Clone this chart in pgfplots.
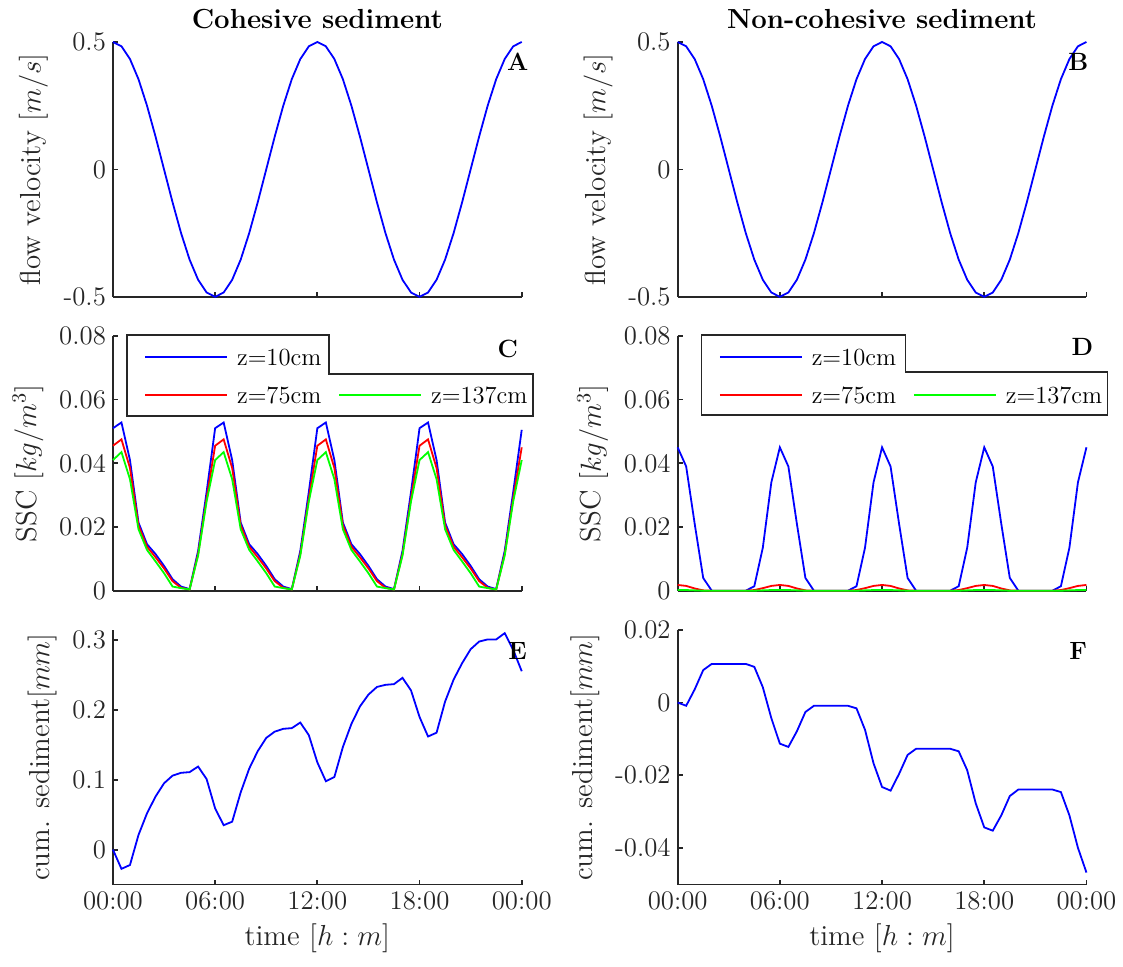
\RequirePackage{fix-cm}
\documentclass[border=0pt]{standalone}
\usepackage{pgfplots}
\pgfplotsset{compat=1.18}
\usepackage{pgfplotstable}

\definecolor{mblue}{rgb}{0,0,1}
\definecolor{mred}{rgb}{1,0,0}
\definecolor{mgreen}{rgb}{0,1,0}
\definecolor{axgray}{rgb}{0.15,0.15,0.15}

\pgfplotstableread{
t v
0 0.500
0.5 0.483
1 0.433
1.5 0.354
2 0.250
2.5 0.129
3 0.000
3.5 -0.129
4 -0.250
4.5 -0.354
5 -0.433
5.5 -0.483
6 -0.500
6.5 -0.483
7 -0.433
7.5 -0.354
8 -0.250
8.5 -0.129
9 0.000
9.5 0.129
10 0.250
10.5 0.354
11 0.433
11.5 0.483
12 0.500
12.5 0.483
13 0.433
13.5 0.354
14 0.250
14.5 0.129
15 0.000
15.5 -0.129
16 -0.250
16.5 -0.354
17 -0.433
17.5 -0.483
18 -0.500
18.5 -0.483
19 -0.433
19.5 -0.354
20 -0.250
20.5 -0.129
21 0.000
21.5 0.129
22 0.250
22.5 0.354
23 0.433
23.5 0.483
24 0.500
}\velA

\pgfplotstableread{
t b r g
0 0.0510 0.0455 0.0410
0.5 0.0528 0.0475 0.0435
1 0.0410 0.0385 0.0350
1.5 0.0214 0.0205 0.0193
2 0.0146 0.0138 0.0128
2.5 0.0115 0.0105 0.0092
3 0.0078 0.0070 0.0055
3.5 0.0036 0.0030 0.0013
4 0.0013 0.0009 0.0008
4.5 0.0005 0.0004 0.0004
5 0.0125 0.0115 0.0110
5.5 0.0310 0.0290 0.0280
6 0.0510 0.0455 0.0410
6.5 0.0528 0.0475 0.0435
7 0.0410 0.0385 0.0350
7.5 0.0214 0.0205 0.0193
8 0.0146 0.0138 0.0128
8.5 0.0115 0.0105 0.0092
9 0.0078 0.0070 0.0055
9.5 0.0036 0.0030 0.0013
10 0.0013 0.0009 0.0008
10.5 0.0005 0.0004 0.0004
11 0.0125 0.0115 0.0110
11.5 0.0310 0.0290 0.0280
12 0.0510 0.0455 0.0410
12.5 0.0528 0.0475 0.0435
13 0.0410 0.0385 0.0350
13.5 0.0214 0.0205 0.0193
14 0.0146 0.0138 0.0128
14.5 0.0115 0.0105 0.0092
15 0.0078 0.0070 0.0055
15.5 0.0036 0.0030 0.0013
16 0.0013 0.0009 0.0008
16.5 0.0005 0.0004 0.0004
17 0.0125 0.0115 0.0110
17.5 0.0310 0.0290 0.0280
18 0.0510 0.0455 0.0410
18.5 0.0528 0.0475 0.0435
19 0.0410 0.0385 0.0350
19.5 0.0214 0.0205 0.0193
20 0.0146 0.0138 0.0128
20.5 0.0115 0.0105 0.0092
21 0.0078 0.0070 0.0055
21.5 0.0036 0.0030 0.0013
22 0.0013 0.0009 0.0008
22.5 0.0005 0.0004 0.0004
23 0.0125 0.0115 0.0110
23.5 0.0310 0.0290 0.0280
24 0.0505 0.0450 0.0410
}\sscC

\pgfplotstableread{
t b r g
0 0.0450 0.0018 0.0002
0.5 0.0390 0.0015 0.0002
1 0.0210 0.0007 0.0001
1.5 0.0040 0.0001 0.0000
2 0.0000 0.0000 0.0000
2.5 0.0000 0.0000 0.0000
3 0.0000 0.0000 0.0000
3.5 0.0000 0.0000 0.0000
4 0.0000 0.0000 0.0000
4.5 0.0014 0.0002 0.0000
5 0.0135 0.0008 0.0001
5.5 0.0340 0.0015 0.0002
6 0.0450 0.0018 0.0002
6.5 0.0390 0.0015 0.0002
7 0.0210 0.0007 0.0001
7.5 0.0040 0.0001 0.0000
8 0.0000 0.0000 0.0000
8.5 0.0000 0.0000 0.0000
9 0.0000 0.0000 0.0000
9.5 0.0000 0.0000 0.0000
10 0.0000 0.0000 0.0000
10.5 0.0014 0.0002 0.0000
11 0.0135 0.0008 0.0001
11.5 0.0340 0.0015 0.0002
12 0.0450 0.0018 0.0002
12.5 0.0390 0.0015 0.0002
13 0.0210 0.0007 0.0001
13.5 0.0040 0.0001 0.0000
14 0.0000 0.0000 0.0000
14.5 0.0000 0.0000 0.0000
15 0.0000 0.0000 0.0000
15.5 0.0000 0.0000 0.0000
16 0.0000 0.0000 0.0000
16.5 0.0014 0.0002 0.0000
17 0.0135 0.0008 0.0001
17.5 0.0340 0.0015 0.0002
18 0.0450 0.0018 0.0002
18.5 0.0390 0.0015 0.0002
19 0.0210 0.0007 0.0001
19.5 0.0040 0.0001 0.0000
20 0.0000 0.0000 0.0000
20.5 0.0000 0.0000 0.0000
21 0.0000 0.0000 0.0000
21.5 0.0000 0.0000 0.0000
22 0.0000 0.0000 0.0000
22.5 0.0014 0.0002 0.0000
23 0.0135 0.0008 0.0001
23.5 0.0340 0.0015 0.0002
24 0.0450 0.0018 0.0002
}\sscD

\pgfplotstableread{
t v
0 0.000
0.5 -0.0275
1 -0.022
1.5 0.021
2 0.052
2.5 0.076
3 0.095
3.5 0.106
4 0.110
4.5 0.111
5 0.119
5.5 0.101
6 0.059
6.5 0.035
7 0.040
7.5 0.082
8 0.116
8.5 0.141
9 0.160
9.5 0.169
10 0.173
10.5 0.174
11 0.182
11.5 0.164
12 0.125
12.5 0.098
13 0.104
13.5 0.147
14 0.180
14.5 0.205
15 0.222
15.5 0.233
16 0.236
16.5 0.237
17 0.246
17.5 0.228
18 0.190
18.5 0.162
19 0.1675
19.5 0.212
20 0.2435
20.5 0.267
21 0.287
21.5 0.298
22 0.301
22.5 0.301
23 0.310
23.5 0.286
24 0.2555
}\cumE

\pgfplotstableread{
t v
0 0.0000
0.5 -0.0009
1 0.0036
1.5 0.0089
2 0.0106
2.5 0.0106
3 0.0106
3.5 0.0106
4 0.0106
4.5 0.0098
5 0.0042
5.5 -0.0043
6 -0.0113
6.5 -0.0122
7 -0.0079
7.5 -0.0026
8 -0.0009
8.5 -0.0009
9 -0.0009
9.5 -0.0009
10 -0.0009
10.5 -0.0016
11 -0.0075
11.5 -0.0167
12 -0.0232
12.5 -0.0242
13 -0.0196
13.5 -0.0144
14 -0.0127
14.5 -0.0127
15 -0.0127
15.5 -0.0127
16 -0.0127
16.5 -0.0134
17 -0.0186
17.5 -0.0277
18 -0.0343
18.5 -0.0352
19 -0.0310
19.5 -0.0257
20 -0.0239
20.5 -0.0239
21 -0.0239
21.5 -0.0239
22 -0.0239
22.5 -0.0246
23 -0.0310
23.5 -0.0399
24 -0.0467
}\cumF

\tikzset{
  plabel/.style={font=\bfseries\fontsize{12.5}{15}\selectfont, anchor=center},
  dline/.style={line width=0.9pt},
}

\pgfplotsset{
  myax/.style={
    scale only axis, width=204.5pt, height=127.5pt,
    anchor=south west,
    xmin=0, xmax=24, xtick={0,6,12,18,24},
    scaled y ticks=false, scaled x ticks=false,
    axis x line*=bottom, axis y line*=left,
    axis line style={line width=0.9pt, axgray, -},
    tick style={line width=0.9pt, axgray},
    tick align=inside, major tick length=2.5pt,
    tick label style={font=\fontsize{13.4}{16}\selectfont, text=axgray},
    label style={font=\fontsize{14.5}{17}\selectfont, text=axgray},
    ylabel style={yshift=1pt},
    title style={font=\bfseries\fontsize{13.8}{16}\selectfont, at={(0.5,1)}, anchor=base, yshift=0.5pt},
    clip=false,
  },
  myleg/.style={
    legend columns=2, legend cell align=left,
    legend image code/.code={\draw[##1, line width=0.9pt] (0pt,0pt) -- (41pt,0pt);},
    legend style={draw=none, fill=none, anchor=north west,
      inner xsep=8.5pt, inner ysep=6.5pt, row sep=11pt,
      font=\fontsize{12.3}{14}\selectfont,
      nodes={inner sep=0pt, text height=8pt, text depth=0pt},
      /tikz/every odd column/.append style={column sep=4.5pt},
      /tikz/every even column/.append style={column sep=8.5pt}},
  },
}

\begin{document}
\begin{tikzpicture}
\path (0pt,0pt) rectangle (561.5pt,-483.5pt);

% ---- A ----
\begin{axis}[myax, at={(56.5pt,-148.5pt)},
  ymin=-0.5, ymax=0.5, ytick={-0.5,0,0.5}, yticklabels={-0.5,0,0.5},
  xticklabels={}, ylabel={flow velocity $[m/s]$},
  title={Cohesive sediment}]
\addplot[mblue, dline] table[x=t,y=v]{\velA};
\node[plabel] at (axis description cs:0.99,0.921) {A};
\end{axis}

% ---- B ----
\begin{axis}[myax, at={(339pt,-148.5pt)},
  ymin=-0.5, ymax=0.5, ytick={-0.5,0,0.5}, yticklabels={-0.5,0,0.5},
  xticklabels={}, ylabel={flow velocity $[m/s]$},
  title={Non-cohesive sediment}]
\addplot[mblue, dline] table[x=t,y=v]{\velA};
\node[plabel] at (axis description cs:0.98,0.921) {B};
\end{axis}

% ---- C ----
\begin{axis}[myax, myleg, at={(56.5pt,-295.5pt)},
  ymin=0, ymax=0.08, ytick={0,0.02,0.04,0.06,0.08}, yticklabels={0,0.02,0.04,0.06,0.08},
  xticklabels={}, ylabel={SSC $[kg/m^3]$},
  legend style={at={(axis description cs:0.0342,1)}}]
\addplot[mblue, dline, forget plot] table[x=t,y=b]{\sscC};
\addplot[mred, dline, forget plot] table[x=t,y=r]{\sscC};
\addplot[mgreen, dline, forget plot] table[x=t,y=g]{\sscC};
\addlegendimage{mblue}\addlegendentry{z=10cm}
\addlegendimage{empty legend}\addlegendentry{}
\addlegendimage{mred}\addlegendentry{z=75cm}
\addlegendimage{mgreen}\addlegendentry{z=137cm}
\node[plabel] at (axis description cs:0.966,0.949) {C};
\end{axis}

% ---- D ----
\begin{axis}[myax, myleg, at={(339pt,-295.5pt)},
  ymin=0, ymax=0.08, ytick={0,0.02,0.04,0.06,0.08}, yticklabels={0,0.02,0.04,0.06,0.08},
  xticklabels={}, ylabel={SSC $[kg/m^3]$},
  legend style={at={(axis description cs:0.0587,1)}}]
\addplot[mblue, dline, forget plot] table[x=t,y=b]{\sscD};
\addplot[mred, dline, forget plot] table[x=t,y=r]{\sscD};
\addplot[mgreen, dline, forget plot] table[x=t,y=g]{\sscD};
\addlegendimage{mblue}\addlegendentry{z=10cm}
\addlegendimage{empty legend}\addlegendentry{}
\addlegendimage{mred}\addlegendentry{z=75cm}
\addlegendimage{mgreen}\addlegendentry{z=137cm}
\node[plabel] at (axis description cs:0.99,0.957) {D};
\end{axis}

% ---- E ----
\begin{axis}[myax, at={(56.5pt,-442.5pt)},
  ymin=-0.05, ymax=0.315, ytick={0,0.1,0.2,0.3}, yticklabels={0,0.1,0.2,0.3},
  xticklabels={00:00,06:00,12:00,18:00,00:00},
  ylabel={cum. sediment$[mm]$}, xlabel={time $[h:m]$}]
\addplot[mblue, dline] table[x=t,y=v]{\cumE};
\node[plabel] at (axis description cs:0.99,0.918) {E};
\end{axis}

% ---- F ----
\begin{axis}[myax, at={(339pt,-442.5pt)},
  ymin=-0.05, ymax=0.02, ytick={-0.04,-0.02,0,0.02}, yticklabels={-0.04,-0.02,0,0.02},
  xticklabels={00:00,06:00,12:00,18:00,00:00},
  ylabel={cum. sediment$[mm]$}, xlabel={time $[h:m]$}]
\addplot[mblue, dline] table[x=t,y=v]{\cumF};
\node[plabel] at (axis description cs:0.98,0.918) {F};
\end{axis}

% legend outlines (stepped frames)
\draw[line width=0.8pt, axgray] (63.5pt,-167.5pt) -- (164.5pt,-167.5pt) -- (164.5pt,-187pt)
  -- (266.5pt,-187pt) -- (266.5pt,-208pt) -- (63.5pt,-208pt) -- cycle;
\draw[line width=0.8pt, axgray] (351pt,-167.5pt) -- (453pt,-167.5pt) -- (453pt,-186pt)
  -- (554pt,-186pt) -- (554pt,-207.5pt) -- (351pt,-207.5pt) -- cycle;
\end{tikzpicture}
\end{document}
